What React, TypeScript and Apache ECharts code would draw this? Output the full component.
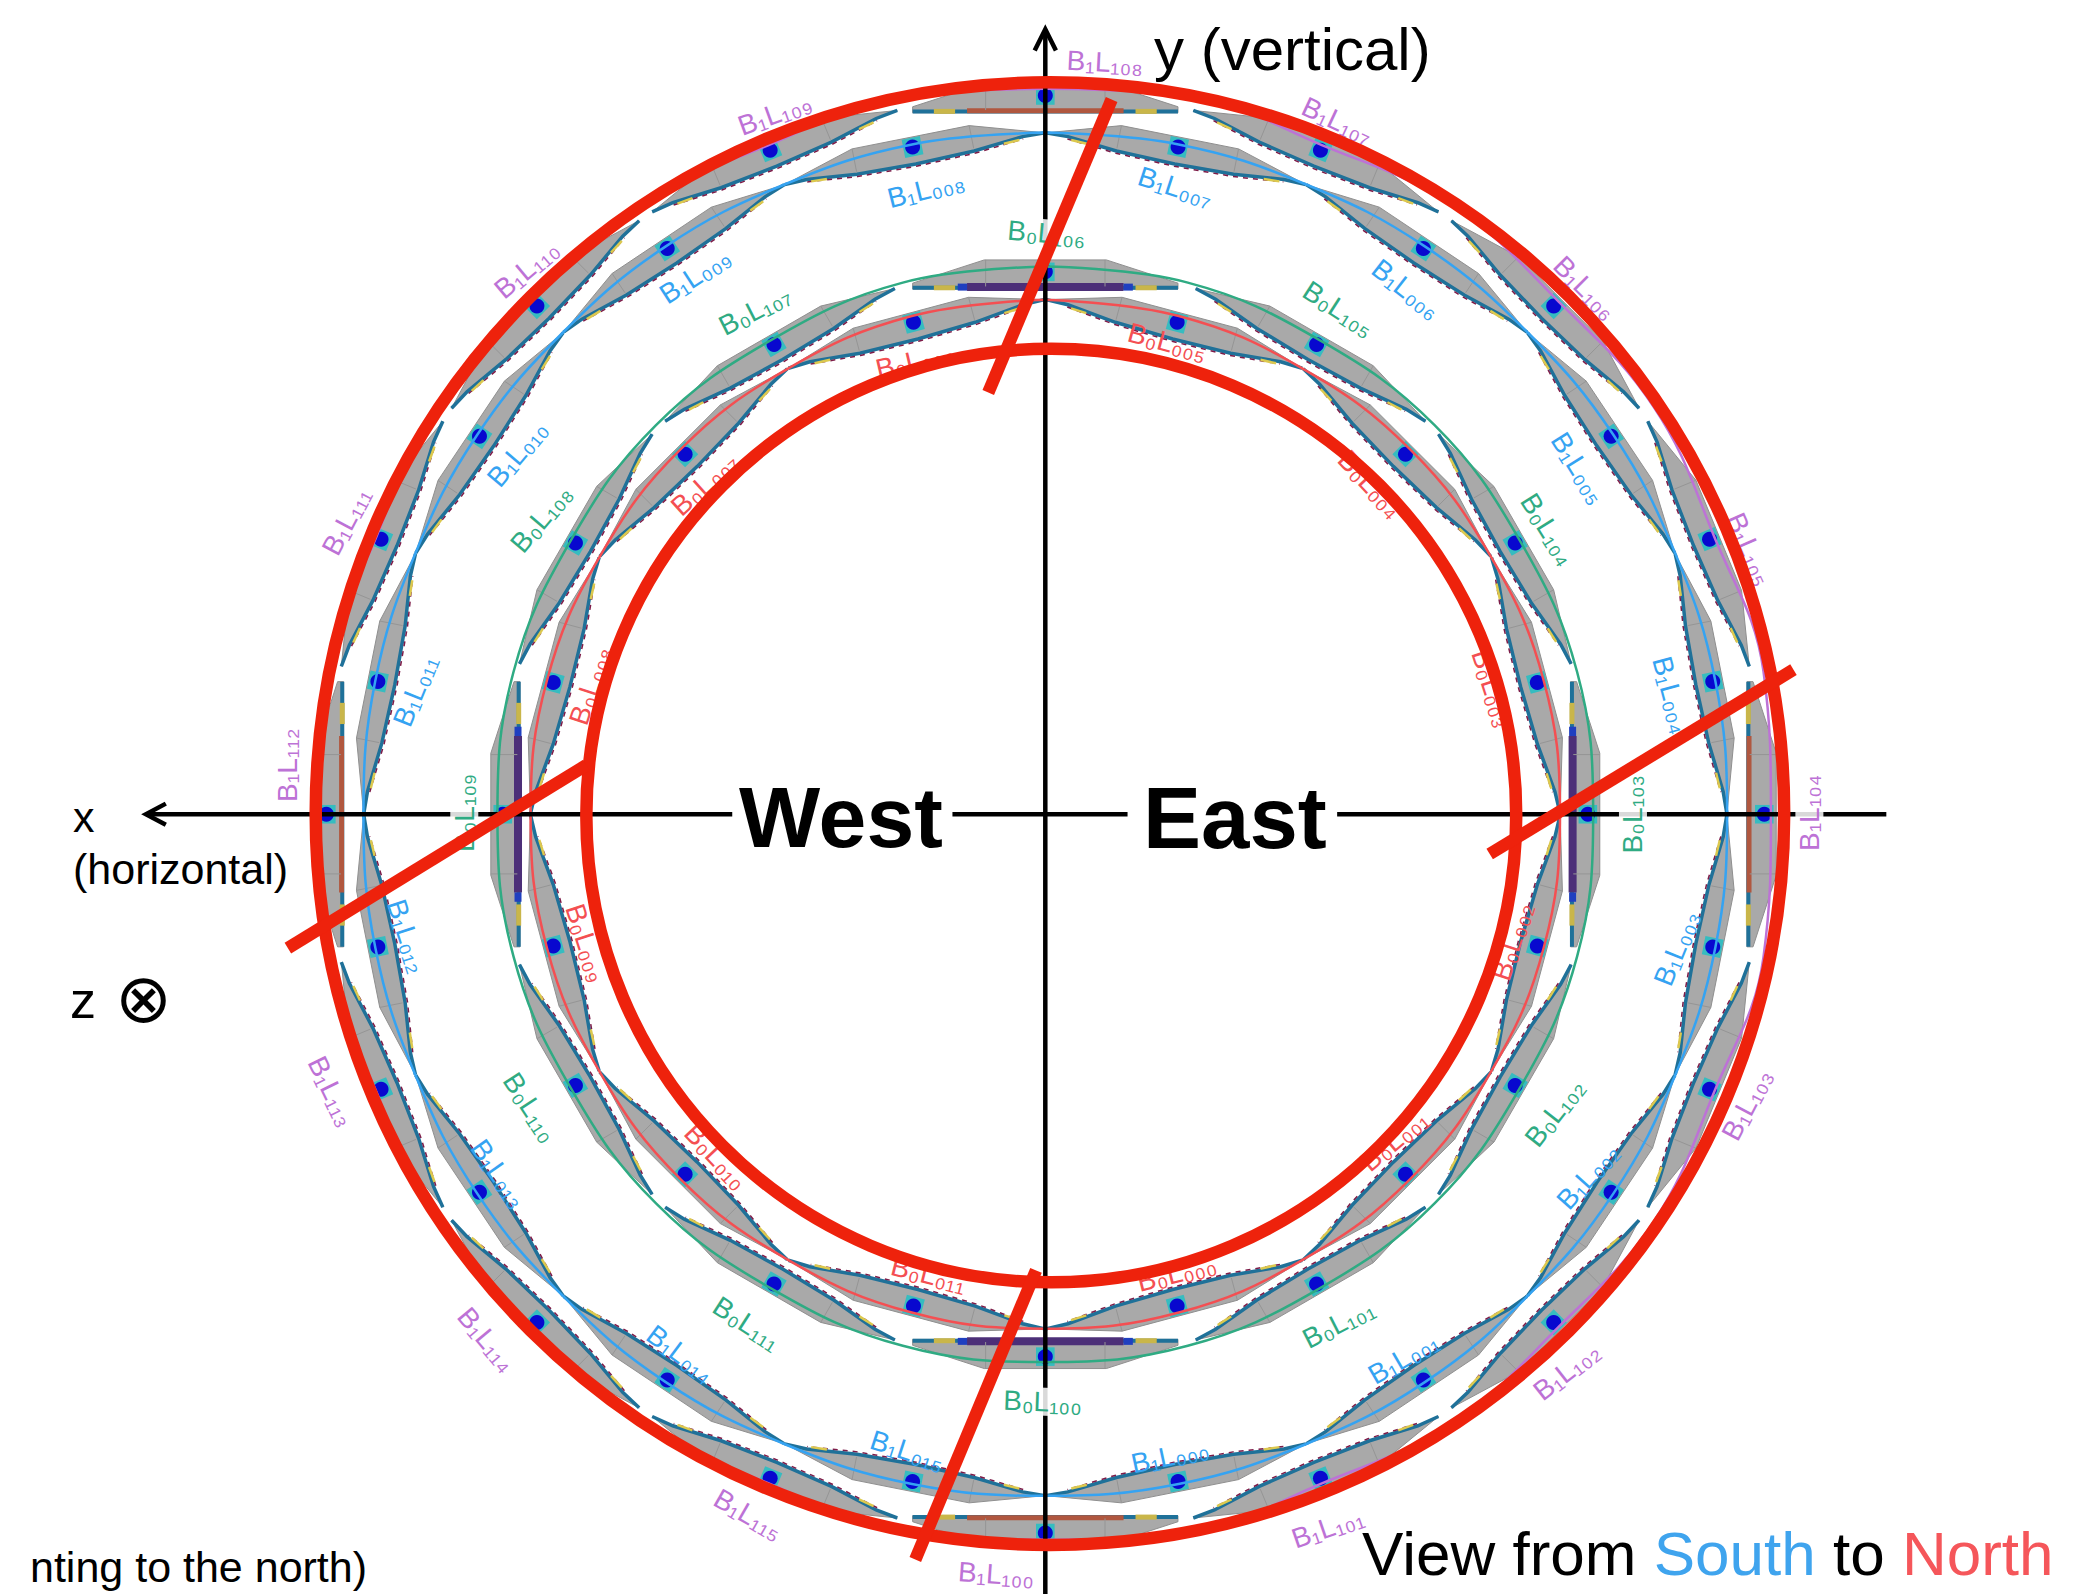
import React, { useEffect, useRef } from "react";
import * as echarts from "echarts";

// Reference frame: the axes run over the picture in units of 1568 x 1202.
const lattice = { x: 788, y: 614 };

// Module azimuths (degrees clockwise from the y axis), in name order.
const b1L1Angles = [180, 157.5, 135, 112.5, 90, 67.5, 45, 22.5, 0, -22.5, -45, -67.5, -90, -112.5, -135, -157.5];
const b1L0Angles = [168.75, 146.25, 123.75, 101.25, 78.75, 56.25, 33.75, 11.25, -11.25, -33.75, -56.25, -78.75, -101.25, -123.75, -146.25, -168.75];
const b0L1Angles = [180, 150, 120, 90, 60, 30, 0, -30, -60, -90, -120, -150];
const b0L0Angles = [165, 135, 105, 75, 45, 15, -15, -45, -75, -105, -135, -165];
const moduleRadii = { b1L1: 542, b1L0: 513, b0L1: 409, b0L0: 384 };

// [name, x, y, rotation in degrees]
const b1L1Labels: [string, number, number, number][] = [
  ["B₁L₁₀₀", 751, 1187, -4], ["B₁L₁₀₁", 1001, 1152, 19], ["B₁L₁₀₂", 1181, 1034, 38], ["B₁L₁₀₃", 1317, 833, 62],
  ["B₁L₁₀₄", 1364, 613, 90], ["B₁L₁₀₅", 1319, 414, -66], ["B₁L₁₀₆", 1195, 217, -45], ["B₁L₁₀₇", 1008, 91, -25],
  ["B₁L₁₀₈", 833, 47, -3], ["B₁L₁₀₉", 584, 86, 20], ["B₁L₁₁₀", 397, 203, 40], ["B₁L₁₁₁", 261, 393, 62],
  ["B₁L₁₁₂", 217, 577, 90], ["B₁L₁₁₃", 250, 823, -64], ["B₁L₁₁₄", 367, 1010, -50], ["B₁L₁₁₅", 564, 1142, -30],
];
const b1L0Labels: [string, number, number, number][] = [
  ["B₁L₀₀₀", 882, 1098, 12], ["B₁L₀₀₁", 1058, 1024, 30], ["B₁L₀₀₂", 1197, 887, 48], ["B₁L₀₀₃", 1264, 715, 68],
  ["B₁L₀₀₄", 1260, 524, -75], ["B₁L₀₀₅", 1190, 353, -58], ["B₁L₀₀₆", 1060, 218, -38], ["B₁L₀₀₇", 886, 141, -18],
  ["B₁L₀₀₈", 698, 143, 14], ["B₁L₀₀₉", 524, 208, 33], ["B₁L₀₁₀", 390, 342, 50], ["B₁L₀₁₁", 313, 521, 68],
  ["B₁L₀₁₂", 307, 706, -72], ["B₁L₀₁₃", 376, 885, -55], ["B₁L₀₁₄", 513, 1021, -37], ["B₁L₀₁₅", 684, 1094, -18],
];
const b0L1Labels: [string, number, number, number][] = [
  ["B₀L₁₀₀", 786, 1057, -2], ["B₀L₁₀₁", 1009, 998, 27], ["B₀L₁₀₂", 1172, 839, 52], ["B₀L₁₀₃", 1231, 614, 90],
  ["B₀L₁₀₄", 1167, 399, -58], ["B₀L₁₀₅", 1009, 233, -33], ["B₀L₁₀₆", 789, 176, -5], ["B₀L₁₀₇", 569, 234, 27],
  ["B₀L₁₀₈", 408, 391, 50], ["B₀L₁₀₉", 350, 613, 90], ["B₀L₁₁₀", 400, 835, -57], ["B₀L₁₁₁", 563, 998, -33],
];
const b0L0Labels: [string, number, number, number][] = [
  ["B₀L₀₀₀", 887, 960, 14], ["B₀L₀₀₁", 1051, 860, 40], ["B₀L₀₀₂", 1140, 710, 72], ["B₀L₀₀₃", 1125, 519, -72],
  ["B₀L₀₀₄", 1033, 365, -47], ["B₀L₀₀₅", 880, 258, -15], ["B₀L₀₀₆", 690, 272, 13], ["B₀L₀₀₇", 531, 365, 42],
  ["B₀L₀₀₈", 445, 517, 72], ["B₀L₀₀₉", 442, 711, -72], ["B₀L₀₁₀", 540, 872, -47], ["B₀L₀₁₁", 700, 961, -14],
];
// Labels that sit on an axis and interrupt it.
const axisMaskedLabels = ["B₁L₁₀₄", "B₀L₁₀₀", "B₀L₁₀₃", "B₀L₁₀₆", "B₀L₁₀₉"];

// Beam envelope radius, read at module centres and at the waists between them.
const b1L1EnvelopeRadii = [547, 552, 546, 552];
const b1L0EnvelopeRadii = [514, 515];
const b0L1EnvelopeRadii = [413, 415];
const b0L0EnvelopeRadii = [388, 389];
const envelopeAngles16 = [0, 11.25, 22.5, 33.75, 45, 56.25, 67.5, 78.75, 90, 101.25, 112.5, 123.75, 135, 146.25, 157.5, 168.75, 180, 191.25, 202.5, 213.75, 225, 236.25, 247.5, 258.75, 270, 281.25, 292.5, 303.75, 315, 326.25, 337.5, 348.75, 360];
const envelopeAngles12 = [0, 15, 30, 45, 60, 75, 90, 105, 120, 135, 150, 165, 180, 195, 210, 225, 240, 255, 270, 285, 300, 315, 330, 345, 360];

// Acceptance outline of a module: [along the beam, outward].
const lensOutline = [[-100, -9], [-45, 7.5], [45, 7.5], [100, -9], [83, -8.5], [45, -12], [0, -13], [-45, -12], [-83, -8.5]];
const lensInnerEdge = [[-100, -9], [-83, -8.5], [-45, -12], [0, -13], [45, -12], [83, -8.5], [100, -9]];
const flatOutline = [[-100, -8.5], [-46, 9], [46, 9], [100, -8.5], [100, -13], [-100, -13]];

// Axes and overlaid red marks.
const axisLines = [
  [[1422, 614], [1008, 614]],
  [[850, 614], [718, 614]],
  [[552, 614], [110, 614]],
  [[788, 1202], [788, 22]],
  [[125, 606], [110, 614], [125, 622]],
  [[780, 38], [788, 22], [796, 38]],
];
const redEllipses = [[791.5, 613.5, 553.5, 551.5], [792.5, 615, 350.5, 352]];
const redLines = [
  [[838, 75], [745, 296]],
  [[1352, 505], [1123, 644]],
  [[781, 958], [690, 1176]],
  [[442, 577], [217, 715]],
];

const PURPLE = "#bd72d6";
const BLUE = "#35a3f2";
const GREEN = "#2fab83";
const RED = "#f44f52";
const TEAL = "#1f7199";
const SANS = "'Liberation Sans', 'DejaVu Sans', sans-serif";

function polar(angle: number, r: number) {
  const a = (angle * Math.PI) / 180;
  return [lattice.x + r * Math.sin(a), lattice.y - r * Math.cos(a)];
}

function local(angle: number, c: number[], u: number, v: number) {
  const a = (angle * Math.PI) / 180;
  return [c[0] + u * Math.cos(a) + v * Math.sin(a), c[1] + u * Math.sin(a) - v * Math.cos(a)];
}

function modulesSeries(angles: number[], radius: number, strip: { color: string; width: number; tips: boolean }) {
  return {
    type: "custom",
    coordinateSystem: "cartesian2d",
    silent: true,
    z: 2,
    clip: false,
    data: angles.map((a) => polar(a, radius)),
    renderItem: (params: any, api: any) => {
      const angle = angles[params.dataIndex];
      const c = [api.value(0), api.value(1)];
      const flat = Math.abs(angle % 90) === 0;
      const toPx = (p: number[]) => api.coord(local(angle, c, p[0], p[1]));
      const line = (pts: number[][], stroke: string, lineWidth: number, lineDash?: number[]) => ({
        type: "polyline",
        shape: { points: pts.map(toPx) },
        style: { fill: "none", stroke, lineWidth, lineDash },
      });
      const children: any[] = [
        {
          type: "polygon",
          shape: { points: (flat ? flatOutline : lensOutline).map(toPx) },
          style: { fill: "#a9a9a9", stroke: "#8f8f8f", lineWidth: 1 },
        },
      ];
      if (flat) {
        children.push(line([[-100, -12], [100, -12]], TEAL, 4));
        children.push(line([[-59, -11.5], [59, -11.5]], strip.color, strip.width));
        if (strip.tips) {
          children.push(line([[-66, -11.5], [-59, -11.5]], "#1f3fc0", 7));
          children.push(line([[59, -11.5], [66, -11.5]], "#1f3fc0", 7));
        }
        children.push(line([[-84, -12], [-68, -12]], "#c9b64a", 5));
        children.push(line([[68, -12], [84, -12]], "#c9b64a", 5));
      } else {
        children.push(line(lensInnerEdge, TEAL, 3.5));
        children.push(
          line(lensInnerEdge.map((p) => [p[0], p[1] - 1.8]).slice(1, 6), "#7d1c48", 1.5, [5, 5]),
        );
        children.push(line([[-80, -10.5], [-68, -11]], "#dcc94e", 2.5));
        children.push(line([[68, -11], [80, -10.5]], "#dcc94e", 2.5));
      }
      const lip = flat ? 9 : 7.5;
      const foot = flat ? -11 : -10;
      children.push(line([[-45, lip], [-45, foot]], "#959595", 1));
      children.push(line([[45, lip], [45, foot]], "#959595", 1));
      children.push({
        type: "polygon",
        shape: { points: [[-7, -7], [7, -7], [7, 7], [-7, 7]].map(toPx) },
        style: { fill: "#36bcc0" },
      });
      const p = api.coord(c);
      children.push({ type: "circle", shape: { cx: p[0], cy: p[1], r: 7.5 }, style: { fill: "#0808cf" } });
      return { type: "group", children };
    },
  };
}

function envelopeSeries(angles: number[], radii: number[], color: string) {
  return {
    type: "line",
    silent: true,
    symbol: "none",
    smooth: 0.4,
    z: 3,
    clip: false,
    lineStyle: { color, width: 2.5 },
    data: angles.map((a, i) => polar(a, radii[i % radii.length])),
  };
}

function labelSeries(labels: [string, number, number, number][], color: string) {
  return {
    type: "custom",
    coordinateSystem: "cartesian2d",
    silent: true,
    z: 5,
    clip: false,
    data: labels.map((l) => [l[1], l[2]]),
    renderItem: (params: any, api: any) => {
      const l = labels[params.dataIndex];
      const p = api.coord([l[1], l[2]]);
      return {
        type: "text",
        x: p[0],
        y: p[1],
        rotation: (l[3] * Math.PI) / 180,
        style: {
          text: l[0],
          fontFamily: SANS,
          fontSize: 28,
          fill: color,
          align: "center",
          verticalAlign: "middle",
          backgroundColor: axisMaskedLabels.includes(l[0]) ? "rgba(255,255,255,0.85)" : undefined,
        },
      };
    },
  };
}

function polylineSeries(lines: number[][][], color: string, width: number, z: number) {
  return {
    type: "custom",
    coordinateSystem: "cartesian2d",
    silent: true,
    z,
    clip: false,
    data: lines.map((l) => l[0]),
    renderItem: (params: any, api: any) => ({
      type: "polyline",
      shape: { points: lines[params.dataIndex].map((p) => api.coord(p)) },
      style: { fill: "none", stroke: color, lineWidth: width },
    }),
  };
}

const ellipseSeries = {
  type: "custom",
  coordinateSystem: "cartesian2d",
  silent: true,
  z: 6,
  clip: false,
  data: redEllipses,
  renderItem: (_p: any, api: any) => {
    const c = api.coord([api.value(0), api.value(1)]);
    const s = api.size([api.value(2), api.value(3)]);
    return {
      type: "ellipse",
      shape: { cx: c[0], cy: c[1], rx: s[0], ry: s[1] },
      style: { fill: "none", stroke: "#ee220c", lineWidth: 12.5 },
    };
  },
};

function txt(text: string, x: number, y: number, fontSize: number, extra: any = {}) {
  return {
    type: "text",
    z: 7,
    x,
    y,
    style: { text, fontSize, fontFamily: SANS, fill: "#000000", align: "left", verticalAlign: "middle", ...extra },
  };
}

export default function App() {
  const ref = useRef<HTMLDivElement>(null);
  useEffect(() => {
    document.body.style.margin = "0";
    const chart = echarts.init(ref.current!, null, { renderer: "svg" });
    chart.setOption({
      animation: false,
      backgroundColor: "#ffffff",
      grid: { left: 0, top: 0, right: 0, bottom: 0 },
      xAxis: { type: "value", min: 0, max: 1568, show: false },
      yAxis: { type: "value", min: 0, max: 1202, inverse: true, show: false },
      series: [
        modulesSeries(b1L1Angles, moduleRadii.b1L1, { color: "#b0573f", width: 5, tips: false }),
        modulesSeries(b1L0Angles, moduleRadii.b1L0, { color: TEAL, width: 4, tips: false }),
        modulesSeries(b0L1Angles, moduleRadii.b0L1, { color: "#4c2f78", width: 8, tips: true }),
        modulesSeries(b0L0Angles, moduleRadii.b0L0, { color: TEAL, width: 4, tips: false }),
        envelopeSeries(envelopeAngles16, b1L1EnvelopeRadii, PURPLE),
        envelopeSeries(envelopeAngles16, b1L0EnvelopeRadii, BLUE),
        envelopeSeries(envelopeAngles12, b0L1EnvelopeRadii, GREEN),
        envelopeSeries(envelopeAngles12, b0L0EnvelopeRadii, RED),
        polylineSeries(axisLines, "#000000", 4.5, 4),
        labelSeries(b1L1Labels, PURPLE),
        labelSeries(b1L0Labels, BLUE),
        labelSeries(b0L1Labels, GREEN),
        labelSeries(b0L0Labels, RED),
        ellipseSeries,
        polylineSeries(redLines, "#ee220c", 12.5, 6),
      ],
      graphic: [
        txt("West", 739, 817, 86, { fontWeight: "bold" }),
        txt("East", 1143, 817, 87, { fontWeight: "bold" }),
        txt("y (vertical)", 1154, 49, 60),
        txt("x", 73, 817, 43),
        txt("(horizontal)", 73, 869, 43),
        txt("z", 70, 1000, 52),
        txt("⊗", 115, 998, 68, { fontFamily: "'DejaVu Sans Light', 'DejaVu Sans', sans-serif" }),
        txt("nting to the north)", 30, 1567, 43),
        {
          type: "text",
          z: 7,
          x: 1362,
          y: 1553,
          style: {
            text: "{k|View from }{s|South}{k| to }{n|North}",
            fontFamily: SANS,
            verticalAlign: "middle",
            rich: {
              k: { fontSize: 62, fontFamily: SANS, fill: "#000000" },
              s: { fontSize: 62, fontFamily: SANS, fill: "#3fa4ee" },
              n: { fontSize: 62, fontFamily: SANS, fill: "#f5565a" },
            },
          },
        },
      ],
    });
    return () => chart.dispose();
  }, []);
  return <div ref={ref} style={{ width: 2080, height: 1594 }} />;
}
